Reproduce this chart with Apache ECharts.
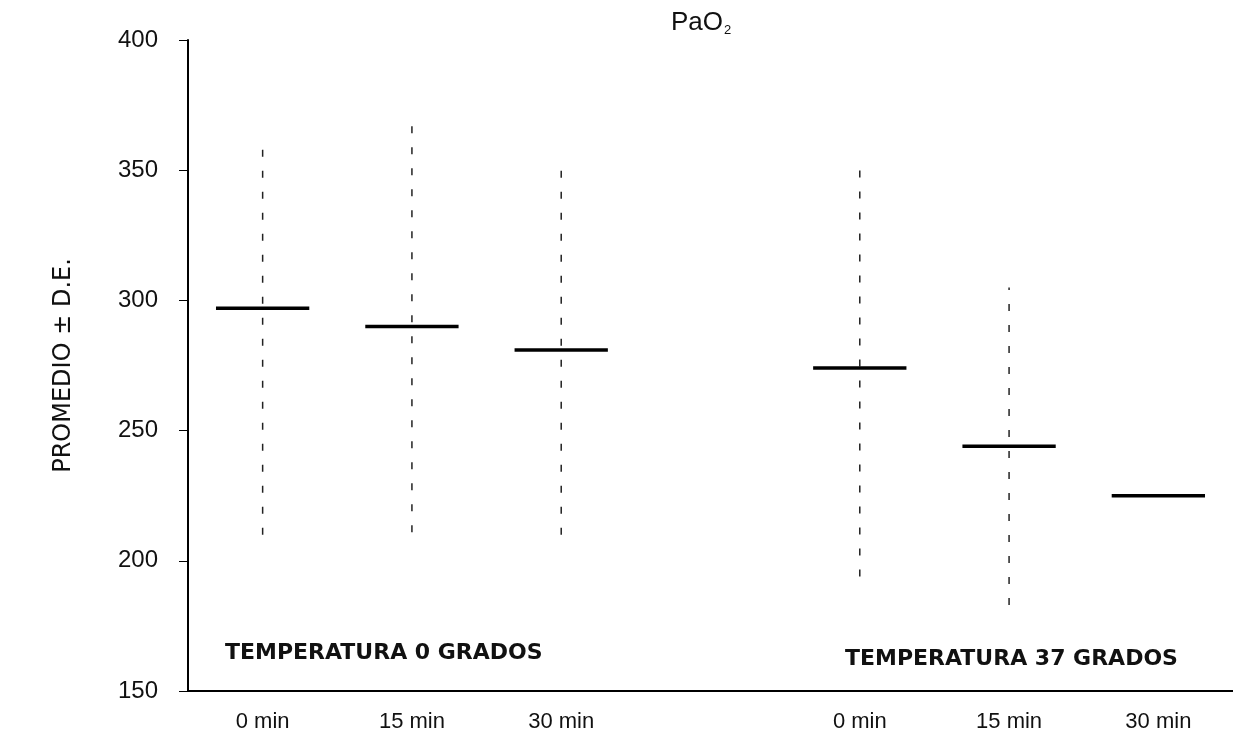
<!DOCTYPE html>
<html>
<head>
<meta charset="utf-8">
<script src="https://cdn.jsdelivr.net/npm/echarts@6/dist/echarts.min.js"></script>
<style>
html,body{margin:0;padding:0;background:#fff;}
#chart{width:1233px;height:749px;}
</style>
</head>
<body>
<div id="chart"></div>
<script>
// ---- data ----
const categories = ['0 min', '15 min', '30 min', '', '0 min', '15 min', '30 min'];
const means  = [297, 290, 281, null, 274, 244, 225];
const sdHigh = [360, 370, 352, null, 354, 305, null];
const sdLow  = [210, 211, 210, null, 194, 183, null];
const groupLabels = ['TEMPERATURA 0 GRADOS', 'TEMPERATURA 37 GRADOS'];
const yMin = 150, yMax = 400, yStep = 50;

const errData = [];
const meanData = [];
categories.forEach((c, i) => {
  if (sdLow[i] != null && sdHigh[i] != null) errData.push([i, sdLow[i], sdHigh[i]]);
  if (means[i] != null) meanData.push([i, means[i]]);
});

const chart = echarts.init(document.getElementById('chart'), null, {renderer: 'canvas'});
chart.setOption({
  animation: false,
  backgroundColor: '#ffffff',
  title: {
    text: '{a|PaO}{b|2}',
    left: 666,
    top: 2,
    textStyle: {
      fontWeight: 'normal',
      rich: {
        a: {fontFamily: 'Liberation Sans', fontWeight: 'normal', fontSize: 26, color: '#111', lineHeight: 32, verticalAlign: 'middle'},
        b: {fontFamily: 'Liberation Sans', fontWeight: 'normal', fontSize: 13, color: '#111', lineHeight: 32, verticalAlign: 'bottom', padding: [0, 0, 2, 1]}
      }
    }
  },
  grid: {left: 188, right: -9, top: 40, bottom: 58, containLabel: false},
  xAxis: {
    type: 'category',
    data: categories,
    boundaryGap: true,
    axisLine: {show: true, lineStyle: {color: '#000', width: 2}},
    axisTick: {show: false},
    axisLabel: {color: '#111', fontFamily: 'Liberation Sans', fontSize: 22, margin: 20, interval: 0},
    splitLine: {show: false}
  },
  yAxis: {
    type: 'value',
    min: yMin, max: yMax, interval: yStep,
    name: 'PROMEDIO ± D.E.',
    nameLocation: 'middle',
    nameGap: 112,
    nameRotate: 90,
    nameTextStyle: {color: '#111', fontFamily: 'DejaVu Sans', fontSize: 24},
    axisLine: {show: true, lineStyle: {color: '#000', width: 2}},
    axisTick: {show: true, inside: false, length: 9, lineStyle: {color: '#000', width: 1}},
    axisLabel: {color: '#111', fontFamily: 'Liberation Sans', fontSize: 24, margin: 30},
    splitLine: {show: false}
  },
  graphic: [
    {type: 'text', left: 225, top: 642, style: {text: groupLabels[0], fill: '#111', font: 'bold 22px "DejaVu Sans"'}},
    {type: 'text', left: 845, top: 648, style: {text: groupLabels[1], fill: '#111', font: 'bold 22px "DejaVu Sans"'}}
  ],
  series: [
    {
      type: 'custom',
      name: 'D.E.',
      data: errData,
      encode: {x: 0, y: [1, 2]},
      renderItem: function (params, api) {
        const x = api.value(0);
        const p1 = api.coord([x, api.value(1)]);
        const p2 = api.coord([x, api.value(2)]);
        return {
          type: 'line',
          shape: {x1: p1[0], y1: p1[1], x2: p2[0], y2: p2[1]},
          style: {stroke: '#222', lineWidth: 1.5, lineDash: [7, 14]}
        };
      },
      z: 2
    },
    {
      type: 'custom',
      name: 'Promedio',
      data: meanData,
      encode: {x: 0, y: 1},
      renderItem: function (params, api) {
        const p = api.coord([api.value(0), api.value(1)]);
        const w = api.size([1, 0])[0] * 0.625;
        return {
          type: 'line',
          shape: {x1: p[0] - w / 2, y1: p[1], x2: p[0] + w / 2, y2: p[1]},
          style: {stroke: '#000', lineWidth: 3.5}
        };
      },
      z: 3
    }
  ]
});
</script>
</body>
</html>
